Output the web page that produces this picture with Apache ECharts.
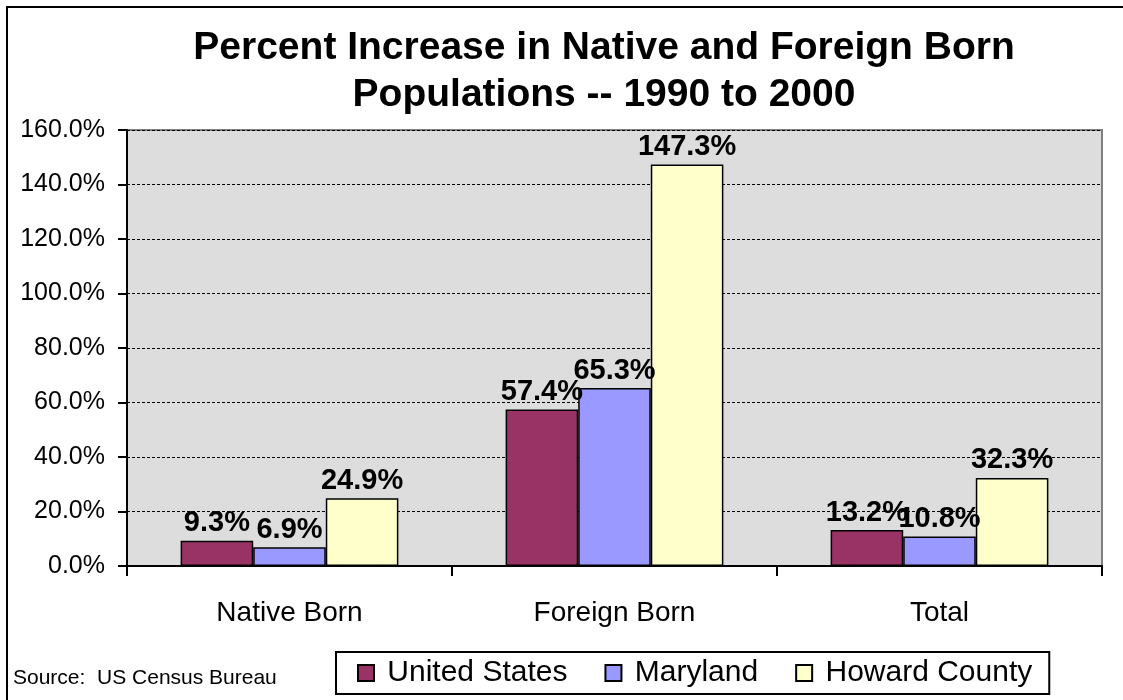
<!DOCTYPE html>
<html><head><meta charset="utf-8">
<script src="https://cdn.jsdelivr.net/npm/echarts@6/dist/echarts.min.js"></script>
<style>html,body{margin:0;padding:0;background:#fff}#c{width:1123px;height:700px}</style>
</head><body><div id="c"></div>
<script>
const categories = ['Native Born', 'Foreign Born', 'Total'];
const unitedStates = [9.3, 57.4, 13.2];
const maryland = [6.9, 65.3, 10.8];
const howardCounty = [24.9, 147.3, 32.3];
const seriesNames = ['United States', 'Maryland', 'Howard County'];
const yTicks = [0, 20, 40, 60, 80, 100, 120, 140, 160];

const FONT = 'Arial, "Liberation Sans", sans-serif';
const colors = ['#993366', '#9999ff', '#ffffcc'];
const chart = echarts.init(document.getElementById('c'));
const lbl = {
  show: true, position: 'top', distance: 3,
  color: '#000', fontFamily: FONT, fontWeight: 'bold', fontSize: 29,
  formatter: p => p.value.toFixed(1) + '%'
};
function mk(name, data, i) {
  return {
    name, type: 'bar', data, barGap: '0%', barCategoryGap: '33%',
    itemStyle: { color: colors[i], borderColor: '#000', borderWidth: 1.5 },
    label: lbl
  };
}
chart.setOption({
  animation: false,
  title: {
    text: 'Percent Increase in Native and Foreign Born\nPopulations -- 1990 to 2000',
    left: 599, top: 20, textAlign: 'center',
    textStyle: { fontFamily: FONT, fontWeight: 'bold', fontSize: 39, lineHeight: 47, color: '#000' }
  },
  grid: {
    left: 127, right: 21, top: 130, bottom: 134, show: true,
    backgroundColor: '#dddddd', borderColor: '#808080', borderWidth: 2
  },
  legend: {
    left: 336, top: 652,
    padding: [6, 17, 6, 21],
    borderColor: '#000', borderWidth: 2,
    itemWidth: 16, itemHeight: 16, itemGap: 37,
    icon: 'rect',
    formatter: n => ' ' + n,
    textStyle: { fontFamily: FONT, fontSize: 30, color: '#000' },
    data: seriesNames
  },
  xAxis: {
    type: 'category', data: categories,
    axisLine: { lineStyle: { color: '#000', width: 2 } },
    axisTick: { show: true, length: 10, lineStyle: { color: '#000', width: 2 } },
    axisLabel: { margin: 33, color: '#000', fontFamily: FONT, fontSize: 28 }
  },
  yAxis: {
    type: 'value', min: 0, max: 160, interval: 20,
    axisLine: { show: true, lineStyle: { color: '#000', width: 2 } },
    axisTick: { show: true, length: 9, lineStyle: { color: '#000', width: 2 } },
    splitLine: { lineStyle: { color: '#000', width: 1, type: [3, 2] } },
    axisLabel: {
      margin: 22, color: '#000', fontFamily: FONT, fontSize: 25,
      formatter: v => yTicks.includes(v) ? v.toFixed(1) + '%' : ''
    }
  },
  graphic: [
    { type: 'rect', shape: { x: 7, y: 7, width: 1140, height: 720 },
      style: { fill: null, stroke: '#000', lineWidth: 2 }, silent: true },
    { type: 'text', left: 13, top: 668,
      style: { text: 'Source:  US Census Bureau', font: '21px ' + FONT, fill: '#000' } }
  ],
  series: [
    mk(seriesNames[0], unitedStates, 0),
    mk(seriesNames[1], maryland, 1),
    mk(seriesNames[2], howardCounty, 2)
  ]
});
</script></body></html>
